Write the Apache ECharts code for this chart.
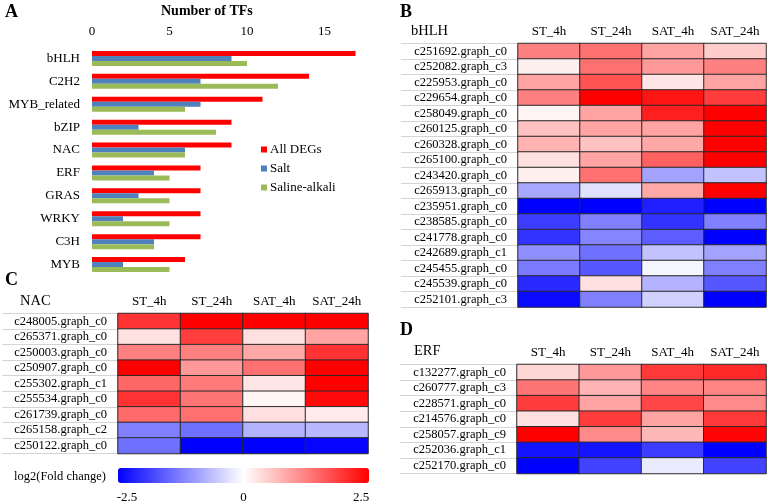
<!DOCTYPE html>
<html><head><meta charset="utf-8">
<script src="https://cdn.jsdelivr.net/npm/echarts@6/dist/echarts.min.js"></script>
<style>html,body{margin:0;padding:0;background:#fff}#c{width:772px;height:504px}</style>
</head><body><div id="c"></div>
<script>
// Panel A data
const tfCats = ['bHLH','C2H2','MYB_related','bZIP','NAC','ERF','GRAS','WRKY','C3H','MYB'];
const allDEGs = [17,14,11,9,9,7,7,7,7,6];
const salt = [9,7,7,3,6,4,3,2,4,2];
const salineAlkali = [10,12,6,8,6,5,5,5,4,5];
const barTicks = [0,5,10,15];

// Heatmap shared
const conditions = ['ST_4h','ST_24h','SAT_4h','SAT_24h'];
const colorbarTicks = [-2.5, 0, 2.5];

// Panel B (bHLH)
const bhlhGenes = ['c251692.graph_c0','c252082.graph_c3','c225953.graph_c0','c229654.graph_c0','c258049.graph_c0','c260125.graph_c0','c260328.graph_c0','c265100.graph_c0','c243420.graph_c0','c265913.graph_c0','c235951.graph_c0','c238585.graph_c0','c241778.graph_c0','c242689.graph_c1','c245455.graph_c0','c245539.graph_c0','c252101.graph_c3'];
const bhlhValues = [
  [1.25, 1.4, 0.9, 0.5],
  [0.15, 1.4, 1.0, 1.25],
  [0.9, 1.7, 0.25, 0.9],
  [1.25, 2.5, 2.3, 1.9],
  [0.1, 0.9, 2.2, 2.5],
  [0.6, 0.9, 0.9, 2.5],
  [0.75, 0.6, 0.85, 2.5],
  [0.3, 0.9, 1.55, 2.5],
  [0.15, 1.4, -0.9, -0.6],
  [-0.85, -0.3, 0.85, 2.5],
  [-2.5, -2.5, -2.2, -2.5],
  [-1.9, -1.25, -2.0, -1.25],
  [-2.0, -1.2, -1.6, -2.5],
  [-1.1, -1.4, -0.6, -0.9],
  [-1.3, -1.65, -0.1, -1.25],
  [-2.1, 0.3, -0.75, -1.65],
  [-2.4, -1.25, -0.45, -2.5]
];

// Panel C (NAC)
const nacGenes = ['c248005.graph_c0','c265371.graph_c0','c250003.graph_c0','c250907.graph_c0','c255302.graph_c1','c255534.graph_c0','c261739.graph_c0','c265158.graph_c2','c250122.graph_c0'];
const nacValues = [
  [2.0, 2.5, 2.5, 2.5],
  [0.3, 1.9, 0.3, 0.9],
  [1.25, 1.25, 0.85, 2.0],
  [2.5, 1.0, 1.4, 2.5],
  [1.5, 1.3, 0.25, 2.5],
  [2.0, 1.35, 0.1, 2.4],
  [1.45, 1.4, 0.3, 0.2],
  [-1.25, -1.4, -0.75, -0.7],
  [-1.4, -2.5, -2.5, -2.45]
];

// Panel D (ERF)
const erfGenes = ['c132277.graph_c0','c260777.graph_c3','c228571.graph_c0','c214576.graph_c0','c258057.graph_c9','c252036.graph_c1','c252170.graph_c0'];
const erfValues = [
  [0.4, 1.0, 1.95, 2.1],
  [1.35, 0.75, 1.2, 1.2],
  [1.9, 0.9, 1.8, 1.15],
  [0.3, 1.9, 0.9, 1.95],
  [2.5, 1.15, 0.7, 2.45],
  [-2.3, -2.3, -1.9, -2.5],
  [-2.5, -1.85, -0.2, -1.85]
];

const FONT = 'Liberation Serif';
function toCells(vals){
  const out = [];
  vals.forEach((row, r) => row.forEach((v, c) => out.push([c, r, v])));
  return out;
}
function heatX(gi){
  return {type:'category', gridIndex:gi, data:conditions, position:'top',
    axisLine:{show:false}, axisTick:{show:false}, splitLine:{show:false},
    axisLabel:{fontFamily:FONT, fontSize:13, color:'#000', margin:5, interval:0, hideOverlap:false}};
}
function heatY(gi, genes, tickLen){
  return {type:'category', gridIndex:gi, data:genes, inverse:true,
    axisLine:{show:false},
    axisTick:{show:true, length:tickLen, interval:0, lineStyle:{color:'#d4d4d4', width:1}},
    splitLine:{show:false},
    axisLabel:{fontFamily:FONT, fontSize:12.5, color:'#000', margin:11, interval:0}};
}
const cellStyle = {borderColor:'#2a2a2a', borderWidth:1};
function ttl(text, left, top, size, weight){
  return {text:text, left:left, top:top, padding:0,
    textStyle:{fontFamily:FONT, fontSize:size, fontWeight:weight, color:'#000'}};
}

const chart = echarts.init(document.getElementById('c'), null, {renderer:'canvas'});
const option = {
  animation:false,
  backgroundColor:'#fff',
  textStyle:{fontFamily:FONT},
  title:[
    ttl('A', 5, 3, 18, 'bold'),
    ttl('B', 400, 3, 18, 'bold'),
    ttl('C', 5, 271, 18, 'bold'),
    ttl('D', 400, 321, 18, 'bold'),
    ttl('Number of TFs', 161, 4, 14, 'bold'),
    ttl('bHLH', 411, 24, 14.5, 'normal'),
    ttl('NAC', 20, 294, 14.5, 'normal'),
    ttl('ERF', 414, 344, 14.5, 'normal'),
    ttl('log2(Fold change)', 14, 470, 12.5, 'normal')
  ],
  legend:{
    data:['All DEGs','Salt','Saline-alkali'], orient:'vertical', left:256, top:138,
    itemWidth:6, itemHeight:6, itemGap:6, icon:'rect',
    textStyle:{fontFamily:FONT, fontSize:13, color:'#000', padding:[0,0,0,-2]}
  },
  grid:[
    {left:92, top:47, width:279, height:229},
    {left:518, top:43.5, width:248, height:263.5},
    {left:118, top:313.5, width:250, height:140},
    {left:517, top:364.5, width:249, height:109}
  ],
  xAxis:[
    {type:'value', gridIndex:0, position:'top', min:0, max:18, interval:5,
     axisLine:{show:false}, axisTick:{show:false}, splitLine:{show:false},
     axisLabel:{fontFamily:FONT, fontSize:13, color:'#000', margin:9, showMaxLabel:false,
       formatter:v => barTicks.indexOf(v) >= 0 ? String(v) : ''}},
    heatX(1), heatX(2), heatX(3)
  ],
  yAxis:[
    {type:'category', gridIndex:0, data:tfCats, inverse:true,
     axisLine:{show:false}, axisTick:{show:false}, splitLine:{show:false},
     axisLabel:{fontFamily:FONT, fontSize:13, color:'#000', margin:12, interval:0}},
    heatY(1, bhlhGenes, 117), heatY(2, nacGenes, 116), heatY(3, erfGenes, 117)
  ],
  visualMap:{
    type:'continuous', min:-2.5, max:2.5, orient:'horizontal', left:118, top:468,
    itemWidth:15, itemHeight:251, calculable:false, padding:0, realtime:false,
    seriesIndex:[3,4,5], hoverLink:false,
    inRange:{color:['#0000ff','#ffffff','#ff0000']}
  },
  series:[
    {name:'All DEGs', type:'bar', xAxisIndex:0, yAxisIndex:0, data:allDEGs, barWidth:5, barGap:'0%', itemStyle:{color:'#ff0000'}},
    {name:'Salt', type:'bar', xAxisIndex:0, yAxisIndex:0, data:salt, barWidth:5, barGap:'0%', itemStyle:{color:'#4f81bd'}},
    {name:'Saline-alkali', type:'bar', xAxisIndex:0, yAxisIndex:0, data:salineAlkali, barWidth:5, barGap:'0%', itemStyle:{color:'#9bbb59'}},
    {type:'heatmap', xAxisIndex:1, yAxisIndex:1, data:toCells(bhlhValues), itemStyle:cellStyle},
    {type:'heatmap', xAxisIndex:2, yAxisIndex:2, data:toCells(nacValues), itemStyle:cellStyle},
    {type:'heatmap', xAxisIndex:3, yAxisIndex:3, data:toCells(erfValues), itemStyle:cellStyle}
  ],
  graphic: colorbarTicks.map((t, i) => ({
    type:'text', x:118 + (t + 2.5) / 5 * 251 + (i === 0 ? 9 : (i === 2 ? -8 : 0)), y:491,
    style:{text:String(t), font:'13px "Liberation Serif"', fill:'#000', align:'center'}
  }))
};
chart.setOption(option);
</script>
</body></html>
